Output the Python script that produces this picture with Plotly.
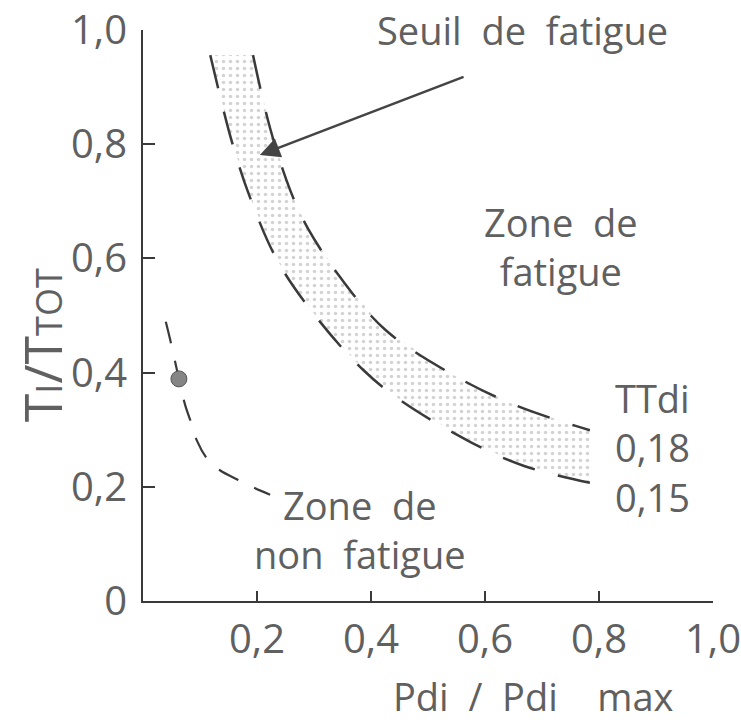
import plotly.graph_objects as go

# TTdi = 0.18 threshold curve (outer edge of the band)
outer_x = [0.193, 0.223, 0.258, 0.289, 0.346, 0.425, 0.544, 0.653, 0.784]
outer_y = [0.956, 0.828, 0.720, 0.653, 0.567, 0.475, 0.396, 0.343, 0.299]

# TTdi = 0.15 threshold curve (inner edge of the band)
inner_x = [0.118, 0.156, 0.188, 0.237, 0.305, 0.386, 0.451, 0.577, 0.670, 0.784]
inner_y = [0.956, 0.804, 0.706, 0.594, 0.496, 0.405, 0.352, 0.277, 0.236, 0.207]

# non-fatigue dashed curve and the measured point
nf_x = [0.040, 0.049, 0.063, 0.074, 0.086, 0.095, 0.114, 0.135, 0.167, 0.191, 0.223]
nf_y = [0.489, 0.452, 0.389, 0.343, 0.308, 0.280, 0.247, 0.229, 0.212, 0.200, 0.186]
point_x = [0.063]
point_y = [0.389]

# arrow "Seuil de fatigue"
arrow_tip = (0.205, 0.781)
arrow_tail = (0.565, 0.919)

tick_vals_x = [0.2, 0.4, 0.6, 0.8, 1.0]
tick_text_x = ['0,2', '0,4', '0,6', '0,8', '1,0']
tick_vals_y = [0, 0.2, 0.4, 0.6, 0.8, 1.0]
tick_text_y = ['0', '0,2', '0,4', '0,6', '0,8', '1,0']

FONT = 'Open Sans'
INK = '#3a3a3a'
TXT = '#606060'
FS = 40

fig = go.Figure()

# stippled band between the two thresholds
fig.add_trace(go.Scatter(
    x=inner_x + outer_x[::-1],
    y=inner_y + outer_y[::-1],
    fill='toself',
    mode='none',
    fillcolor='rgba(255,255,255,0)',
    fillpattern=dict(shape='.', fgcolor='#a8a8a8', bgcolor='white', size=7, solidity=0.2),
    hoverinfo='skip',
    showlegend=False,
))

for xs, ys in [(outer_x, outer_y), (inner_x, inner_y)]:
    fig.add_trace(go.Scatter(
        x=xs, y=ys, mode='lines',
        line=dict(color=INK, width=2.5, dash='34px,24px', shape='spline'),
        showlegend=False,
    ))

fig.add_trace(go.Scatter(
    x=nf_x, y=nf_y, mode='lines',
    line=dict(color=INK, width=2.2, dash='22px,18px', shape='spline'),
    showlegend=False,
))

fig.add_trace(go.Scatter(
    x=point_x, y=point_y, mode='markers',
    marker=dict(size=16, color='#858585', line=dict(color='#555', width=1)),
    showlegend=False,
))

small = "<span style='font-size:36px'>{}</span>"
y_title = 'T' + small.format('I') + '/T' + small.format('TOT')

annotations = [
    dict(x=arrow_tip[0], y=arrow_tip[1], ax=arrow_tail[0], ay=arrow_tail[1],
         axref='x', ayref='y', xref='x', yref='y', text='', showarrow=True,
         arrowhead=2, arrowsize=1.6, arrowwidth=2.5, arrowcolor='#444'),
    dict(x=0.665, y=1.0, text='Seuil  de  fatigue', size=38),
    dict(x=0.733, y=0.621, text='Zone  de<br>fatigue', size=38),
    dict(x=0.825, y=0.268, text='TTdi<br>0,18<br>0,15', xanchor='left', align='left', size=38),
    dict(x=0.381, y=0.125, text='Zone  de<br>non  fatigue', size=38),
    dict(x=0.685, y=-0.215, text='Pdi  /  Pdi    max', yanchor='bottom', size=38),
    dict(x=-0.178, y=0.447, text=y_title, textangle=-90, size=52),
]
for a in annotations:
    size = a.pop('size', FS)
    a.setdefault('xref', 'paper')
    a.setdefault('yref', 'paper')
    a.setdefault('xanchor', 'center')
    a.setdefault('yanchor', 'middle')
    a.setdefault('showarrow', False)
    a.setdefault('font', dict(family=FONT, size=size, color=TXT))

fig.update_layout(
    width=741, height=725,
    margin=dict(l=143, r=28, t=30, b=124),
    plot_bgcolor='white', paper_bgcolor='white',
    font=dict(family=FONT, size=FS, color=TXT),
    annotations=annotations,
    xaxis=dict(
        range=[0, 1.0], tickvals=tick_vals_x, ticktext=tick_text_x,
        showgrid=False, zeroline=False, showline=True, linecolor=INK, linewidth=2,
        ticks='inside', ticklen=10, tickwidth=2, tickcolor=INK,
        ticklabelstandoff=2, ticklabeloverflow='allow', automargin=False,
    ),
    yaxis=dict(
        range=[0, 1.0], tickvals=tick_vals_y, ticktext=tick_text_y,
        showgrid=False, zeroline=False, showline=True, linecolor=INK, linewidth=2,
        ticks='inside', ticklen=12, tickwidth=2, tickcolor=INK,
        ticklabelstandoff=6, ticklabeloverflow='allow', automargin=False,
    ),
)

fig.write_html("out.html", config={'displayModeBar': False},
               post_script="document.body.style.margin='0';")
